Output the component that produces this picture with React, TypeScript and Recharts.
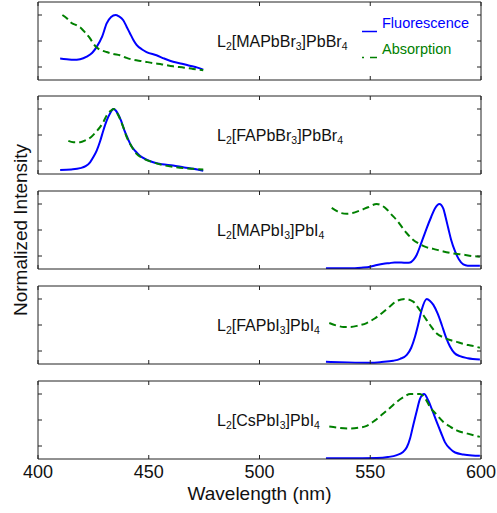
import React from 'react';
import { LineChart, Line, XAxis, YAxis, Legend } from 'recharts';

// wavelength (nm), normalized intensity
const mabrFluor = [
    [410, 0.33], [413, 0.32], [416, 0.31], [419, 0.32], [422, 0.36], [424.5, 0.42], [426.5, 0.51],
    [429, 0.67], [431, 0.87], [433, 0.97], [435, 1.0], [436.5, 0.98], [438.5, 0.92], [440, 0.82],
    [441.5, 0.72], [443, 0.62], [444.5, 0.54], [447, 0.47], [449, 0.43], [453.5, 0.38], [457, 0.33],
    [461, 0.28], [465, 0.25], [468.5, 0.22], [472, 0.19], [474.6, 0.16]
];
const mabrAbs = [
    [411, 1.0], [413, 0.95], [415, 0.88], [417.5, 0.84], [419.7, 0.79], [421.5, 0.72], [423.5, 0.64],
    [425, 0.56], [426.5, 0.5], [428.5, 0.46], [431, 0.43], [434, 0.4], [437, 0.38], [440, 0.34],
    [443, 0.31], [447, 0.29], [452, 0.26], [456, 0.24], [461, 0.21], [466, 0.19], [470, 0.17], [474.6, 0.15]
];
const fabrFluor = [
    [410, 0.06], [415, 0.07], [419, 0.09], [421.5, 0.12], [423.5, 0.18], [425, 0.26], [426.5, 0.36],
    [428, 0.5], [429.5, 0.67], [431, 0.82], [432.5, 0.93], [434, 1.0], [435, 0.98], [436, 0.93],
    [437.5, 0.82], [439, 0.67], [440.5, 0.55], [442, 0.44], [444, 0.35], [446, 0.28], [449, 0.22],
    [452, 0.18], [456, 0.15], [461, 0.13], [466, 0.1], [470, 0.08], [474.6, 0.05]
];
const fabrAbs = [
    [413.7, 0.51], [416, 0.49], [419, 0.49], [421.5, 0.52], [424, 0.57], [426, 0.64], [428, 0.72],
    [429.5, 0.8], [431, 0.9], [432.7, 0.97], [434.3, 1.0], [435.5, 0.95], [437, 0.85], [438.5, 0.72],
    [440, 0.57], [442, 0.44], [444.5, 0.31], [447, 0.25], [452, 0.18], [456, 0.14], [461, 0.11],
    [466, 0.09], [470, 0.08], [474.6, 0.07]
];
const maiFluor = [
    [530, 0.01], [535, 0.01], [541, 0.01], [546, 0.02], [550, 0.035], [553, 0.06], [556, 0.08],
    [558.5, 0.09], [561, 0.1], [564, 0.1], [566.5, 0.095], [568, 0.1], [569.5, 0.14], [571, 0.22],
    [572.5, 0.35], [574, 0.49], [575.5, 0.63], [577.5, 0.8], [579.2, 0.93], [581.2, 1.0], [583, 0.93],
    [584, 0.8], [585.2, 0.63], [586.5, 0.45], [588.3, 0.27], [590, 0.15], [592, 0.07], [594, 0.05],
    [597, 0.05], [599.5, 0.05]
];
const maiAbs = [
    [532.6, 0.94], [535, 0.89], [537, 0.86], [539.4, 0.85], [542, 0.86], [545.4, 0.9], [549, 0.95],
    [552.9, 1.0], [555, 0.98], [557.4, 0.92], [559.5, 0.84], [562, 0.75], [564, 0.66], [566.5, 0.55],
    [569, 0.46], [572.5, 0.38], [575, 0.34], [578.5, 0.31], [583, 0.27], [587.5, 0.24], [592, 0.22],
    [596, 0.2], [599.5, 0.19]
];
const faiFluor = [
    [530, 0.035], [540, 0.025], [550, 0.02], [555, 0.03], [560.4, 0.05], [563.5, 0.08], [566.5, 0.14],
    [568.5, 0.25], [570.2, 0.42], [571.8, 0.63], [573.2, 0.83], [575.5, 1.0], [577, 0.97], [578.5, 0.91],
    [580.5, 0.77], [582.3, 0.6], [584, 0.43], [586, 0.27], [588, 0.17], [590.5, 0.12], [594, 0.09],
    [599.5, 0.07]
];
const faiAbs = [
    [531.5, 0.63], [535, 0.59], [538, 0.57], [541, 0.57], [544.5, 0.59], [548.4, 0.63], [552, 0.7],
    [555.9, 0.8], [559, 0.89], [562, 0.97], [565.7, 1.0], [569.4, 0.96], [571.5, 0.87], [574, 0.75],
    [577, 0.6], [580, 0.47], [583, 0.41], [586, 0.37], [589, 0.34], [592, 0.31], [596, 0.28], [599.5, 0.25]
];
const csiFluor = [
    [530, 0.01], [540, 0.01], [552.9, 0.015], [558, 0.03], [562, 0.06], [564.5, 0.1], [566.5, 0.18],
    [568, 0.32], [569.4, 0.52], [571, 0.74], [572.5, 0.93], [574.3, 1.0], [576.2, 0.9], [578, 0.75],
    [580, 0.57], [582, 0.4], [583.7, 0.26], [586, 0.16], [588.3, 0.1], [592, 0.07], [596, 0.055],
    [599.5, 0.05]
];
const csiAbs = [
    [531.5, 0.5], [536, 0.48], [540.9, 0.47], [544.5, 0.48], [548.4, 0.51], [552, 0.59], [555.9, 0.7],
    [559, 0.79], [562, 0.88], [565, 0.95], [568, 1.0], [572.5, 1.0], [575, 0.92], [577, 0.8], [580, 0.68],
    [583, 0.57], [586, 0.5], [589, 0.44], [594, 0.39], [599.5, 0.34]
];

const sampleLabels = [
    'L_2[MAPbBr_3]PbBr_4',
    'L_2[FAPbBr_3]PbBr_4',
    'L_2[MAPbI_3]PbI_4',
    'L_2[FAPbI_3]PbI_4',
    'L_2[CsPbI_3]PbI_4'
];
const seriesNames = ['Fluorescence', 'Absorption'];
const wlTicks = [400, 450, 500, 550, 600];
const yTicks = [0.2, 0.4, 0.6, 0.8, 1.0];

const panelTops = [2, 96, 191, 286, 381];
const PLOT_H = 78;
const FONT = '"Liberation Sans", Arial, Helvetica, sans-serif';
const FRAME = '#222';
const BLUE = '#0000ff';
const GREEN = '#008000';

const toPoints = (pairs: number[][]) => pairs.map(([x, y]) => ({ x, y }));

// tick lines only, no label
const noLabel = () => <g />;

const renderLegend = (props: any) => {
    const payload = [...(props.payload || [])].sort(
        (a: any, b: any) => seriesNames.indexOf(a.value) - seriesNames.indexOf(b.value)
    );
    return (
        <svg width={130} height={56} style={{ fontFamily: FONT }}>
            {payload.map((entry: any, i: number) => (
                <g key={`leg-${i}`}>
                    <line
                        x1={6}
                        x2={21}
                        y1={27.5 + i * 26}
                        y2={27.5 + i * 26}
                        stroke={entry.color}
                        strokeWidth={1.5}
                        strokeDasharray={i === 1 ? '2 6 7 0' : undefined}
                    />
                    <text x={26} y={24 + i * 26} fill={entry.color} fontSize={14.5}>
                        {entry.value}
                    </text>
                </g>
            ))}
        </svg>
    );
};

interface PanelProps {
    top: number;
    fluor: number[][];
    absorb: number[][];
    isBottom?: boolean;
    showLegend?: boolean;
}

const Panel: React.FC<PanelProps> = ({ top, fluor, absorb, isBottom, showLegend }) => {
    const height = isBottom ? 6 + PLOT_H + 48 : 6 + PLOT_H + 6;
    const frameAxis = { type: 'number' as const, dataKey: 'x', domain: [400, 600], ticks: wlTicks, allowDataOverflow: true };
    const yAxis = { type: 'number' as const, domain: [0, 1.2], ticks: yTicks, allowDataOverflow: true };
    return (
        <div style={{ position: 'absolute', left: 0, top: top - 6 }}>
            <LineChart width={497} height={height} margin={{ top: 6, right: 16, bottom: isBottom ? 0 : 6, left: 38 }}>
                <XAxis xAxisId="b" {...frameAxis} orientation="bottom" mirror height={1} tick={noLabel} tickSize={4} stroke={FRAME} />
                <XAxis xAxisId="t" {...frameAxis} orientation="top" mirror height={1} tick={noLabel} tickSize={4} stroke={FRAME} />
                {isBottom && (
                    <XAxis
                        xAxisId="lab"
                        {...frameAxis}
                        orientation="bottom"
                        height={48}
                        axisLine={false}
                        tickLine={false}
                        tickSize={0}
                        tickMargin={6}
                        tick={{ fontSize: 18, fill: '#111', fontFamily: FONT }}
                        label={{ value: 'Wavelength (nm)', position: 'insideBottom', offset: 7, fontSize: 19, fill: '#111', fontFamily: FONT }}
                    />
                )}
                <YAxis yAxisId="l" {...yAxis} orientation="left" mirror width={1} tick={noLabel} tickSize={4} stroke={FRAME} />
                <YAxis yAxisId="r" {...yAxis} orientation="right" mirror width={1} tick={noLabel} tickSize={4} stroke={FRAME} />
                <Line
                    xAxisId="b"
                    yAxisId="l"
                    data={toPoints(fluor)}
                    dataKey="y"
                    name={seriesNames[0]}
                    type="monotone"
                    stroke={BLUE}
                    strokeWidth={2}
                    dot={false}
                    isAnimationActive={false}
                />
                <Line
                    xAxisId="b"
                    yAxisId="l"
                    data={toPoints(absorb)}
                    dataKey="y"
                    name={seriesNames[1]}
                    type="monotone"
                    stroke={GREEN}
                    strokeWidth={2}
                    strokeDasharray="7 4"
                    dot={false}
                    isAnimationActive={false}
                />
                {showLegend && (
                    <Legend
                        layout="horizontal"
                        verticalAlign="middle"
                        align="center"
                        wrapperStyle={{ left: 356, top: 8, width: 130, height: 56 }}
                        content={renderLegend}
                    />
                )}
            </LineChart>
        </div>
    );
};

const SampleLabel: React.FC<{ text: string; x: number; y: number }> = ({ text, x, y }) => {
    const parts = text.split(/_(\d)/);
    return (
        <text x={x} y={y} fontSize={16} fill="#111">
            {parts.map((p, i) =>
                i % 2 === 1 ? (
                    <tspan key={i} dy={3} fontSize={10.5}>{p}</tspan>
                ) : (
                    <tspan key={i} dy={i === 0 ? 0 : -3}>{p}</tspan>
                )
            )}
        </text>
    );
};

const panelData = [
    [mabrFluor, mabrAbs],
    [fabrFluor, fabrAbs],
    [maiFluor, maiAbs],
    [faiFluor, faiAbs],
    [csiFluor, csiAbs]
];

export default function App() {
    return (
        <div style={{ position: 'absolute', left: 0, top: 0, width: 497, height: 513, background: '#fff', fontFamily: FONT }}>
            {panelData.map(([fl, ab], i) => (
                <Panel
                    key={`panel-${i}`}
                    top={panelTops[i]}
                    fluor={fl}
                    absorb={ab}
                    isBottom={i === panelData.length - 1}
                    showLegend={i === 0}
                />
            ))}
            <svg width={497} height={513} style={{ position: 'absolute', left: 0, top: 0, pointerEvents: 'none', fontFamily: FONT }}>
                {sampleLabels.map((lbl, i) => (
                    <SampleLabel key={lbl} text={lbl} x={217} y={panelTops[i] + 45} />
                ))}
                <text x={27} y={230} transform="rotate(-90 27 230)" textAnchor="middle" fontSize={19} fill="#111">
                    Normalized Intensity
                </text>
            </svg>
        </div>
    );
}
